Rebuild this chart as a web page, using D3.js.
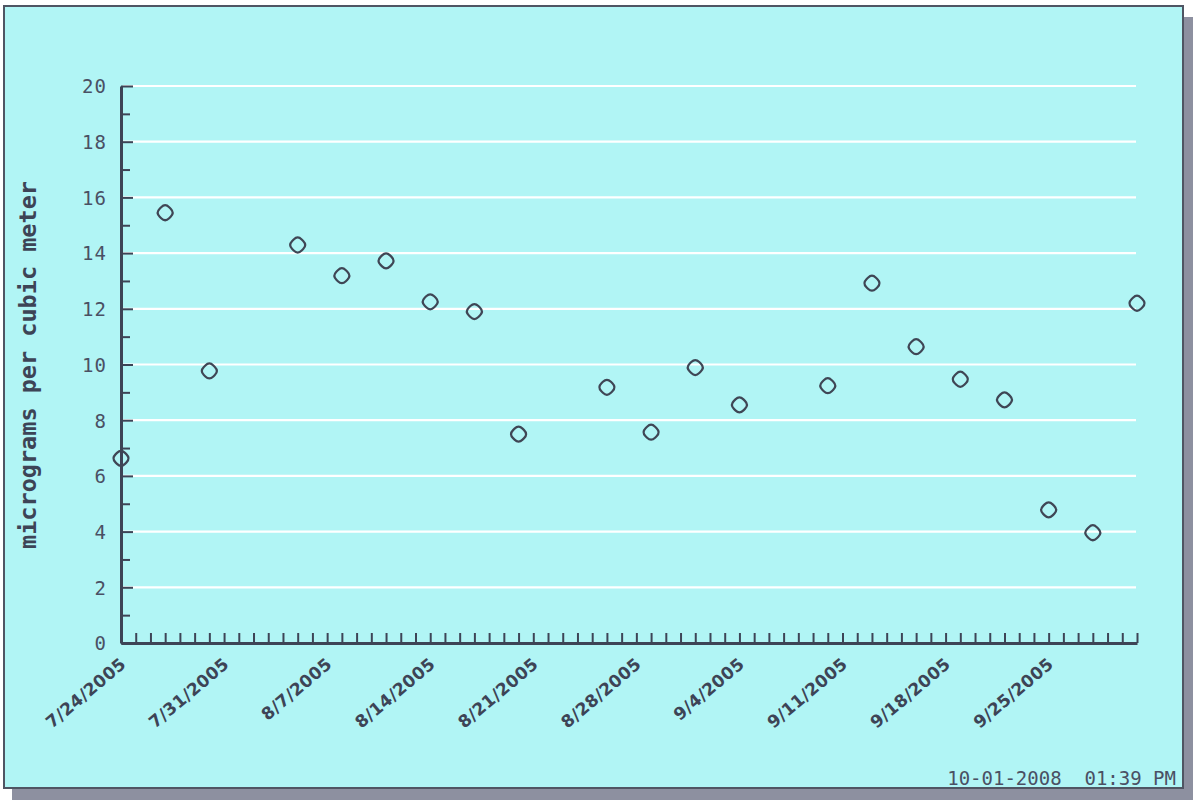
<!DOCTYPE html>
<html>
<head>
<meta charset="utf-8">
<script src="https://cdn.jsdelivr.net/npm/d3@7"></script>
<style>
  html, body { margin: 0; padding: 0; background: #ffffff; }
  svg { display: block; }
</style>
</head>
<body>
<svg id="chart" width="1193" height="803"></svg>
<script>
// ---- data ----
const sampleDates = ["2005-07-24","2005-07-27","2005-07-30","2005-08-05","2005-08-08","2005-08-11","2005-08-14","2005-08-17","2005-08-20","2005-08-26","2005-08-29","2005-09-01","2005-09-04","2005-09-10","2005-09-13","2005-09-16","2005-09-19","2005-09-22","2005-09-25","2005-09-28","2005-10-01"];
const pm25Values = [6.63,15.45,9.77,14.29,13.19,13.72,12.25,11.9,7.5,9.18,7.57,9.89,8.55,9.24,12.92,10.64,9.47,8.73,4.78,3.96,12.2];
const xDomainDates = ["2005-07-24","2005-10-01"];
const xLabelDates = ["2005-07-24","2005-07-31","2005-08-07","2005-08-14","2005-08-21","2005-08-28","2005-09-04","2005-09-11","2005-09-18","2005-09-25"];
const yMajorTicks = [0,2,4,6,8,10,12,14,16,18,20];
const yMinorTicks = [1,3,5,7,9,11,13,15,17,19];
const yTitle = "micrograms per cubic meter";
const stampText = "10-01-2008\u00a0\u00a001:39 PM";

// ---- setup ----
const parse = d3.utcParse("%Y-%m-%d");
const fmt = d3.utcFormat("%-m/%-d/%Y");
const svg = d3.select("#chart");
const ink = "#3d4456";

// panel with shadow
svg.append("rect").attr("x", 12).attr("y", 17).attr("width", 1181).attr("height", 783).attr("fill", "#8d90a0");
svg.append("rect").attr("x", 4).attr("y", 6).attr("width", 1179).attr("height", 782)
  .attr("fill", "#b1f5f5").attr("stroke", "#4f5563").attr("stroke-width", 2);

const x = d3.scaleUtc().domain(xDomainDates.map(parse)).range([121, 1137]);
const y = d3.scaleLinear().domain([0, 20]).range([643, 86]);

// gridlines
svg.append("g").selectAll("line").data(yMajorTicks.filter(v => v > 0)).join("line")
  .attr("x1", 123).attr("x2", 1136)
  .attr("y1", d => y(d)).attr("y2", d => y(d))
  .attr("stroke", "#ffffff").attr("stroke-width", 2.2);

// y axis tick marks (right-pointing, inside)
const yTicksAll = yMajorTicks.concat(yMinorTicks).sort((a, b) => a - b);
const yAxisG = svg.append("g").attr("transform", "translate(121,0)")
  .call(d3.axisRight(y).tickValues(yTicksAll).tickFormat("").tickSize(11).tickSizeOuter(0));
yAxisG.select(".domain").attr("stroke", ink).attr("stroke-width", 3);
yAxisG.selectAll(".tick line").attr("stroke", ink).attr("stroke-width", 2)
  .attr("x2", d => (d % 2 === 0 ? 12 : 9));

// y labels
const yLabG = svg.append("g").attr("transform", "translate(107,0)")
  .call(d3.axisLeft(y).tickValues(yMajorTicks).tickSize(0).tickPadding(0));
yLabG.select(".domain").remove();
yLabG.selectAll("text").attr("fill", "#4a5064")
  .style("font-family", "'DejaVu Sans Mono', monospace").style("font-size", "19px")
  .attr("letter-spacing", "1px").attr("dy", "0.36em");

// x axis daily ticks (pointing up)
const dayTicks = d3.utcDay.range(x.domain()[0], d3.utcDay.offset(x.domain()[1], 1));
const xAxisG = svg.append("g").attr("transform", "translate(0,643)")
  .call(d3.axisBottom(x).tickValues(dayTicks).tickSize(-10).tickSizeOuter(0).tickFormat(""));
xAxisG.select(".domain").attr("stroke", ink).attr("stroke-width", 3);
xAxisG.selectAll(".tick line").attr("stroke", ink).attr("stroke-width", 2);

// x labels (rotated)
svg.append("g").selectAll("text").data(xLabelDates.map(parse)).join("text")
  .attr("transform", d => `translate(${x(d) + 6},666) rotate(-40)`)
  .attr("text-anchor", "end")
  .attr("fill", ink)
  .style("font-family", "'DejaVu Sans', sans-serif").style("font-weight", "bold").style("font-size", "17px")
  .attr("letter-spacing", "0.3px")
  .text(d => fmt(d));

// y title
svg.append("text")
  .attr("transform", "translate(36,365) rotate(-90)")
  .attr("text-anchor", "middle")
  .attr("fill", ink)
  .style("font-family", "'DejaVu Sans Mono', monospace").style("font-weight", "bold").style("font-size", "23.5px")
  .text(yTitle);

// timestamp
svg.append("text")
  .attr("x", 1176).attr("y", 785).attr("text-anchor", "end")
  .attr("fill", "#4a5064")
  .style("font-family", "'DejaVu Sans Mono', monospace").style("font-size", "19px")
  .text(stampText);

// markers: rounded diamonds
function roundedDiamond(r, c) {
  const p = d3.path();
  const k = c / r;
  const V = [[0, -r], [r, 0], [0, r], [-r, 0]];
  const lerp = (a, b, t) => [a[0] + (b[0] - a[0]) * t, a[1] + (b[1] - a[1]) * t];
  for (let i = 0; i < 4; i++) {
    const prev = V[(i + 3) % 4], cur = V[i], next = V[(i + 1) % 4];
    const a = lerp(cur, prev, k), b = lerp(cur, next, k);
    if (i === 0) p.moveTo(a[0], a[1]); else p.lineTo(a[0], a[1]);
    p.quadraticCurveTo(cur[0], cur[1], b[0], b[1]);
  }
  p.closePath();
  return p.toString();
}
const markerPath = roundedDiamond(9.5, 4);
svg.append("g").selectAll("path").data(sampleDates.map((d, i) => ({ date: parse(d), value: pm25Values[i] }))).join("path")
  .attr("transform", d => `translate(${x(d.date)},${y(d.value)})`)
  .attr("d", markerPath)
  .attr("fill", "none").attr("stroke", "#3f4655").attr("stroke-width", 2.2);
</script>
</body>
</html>
